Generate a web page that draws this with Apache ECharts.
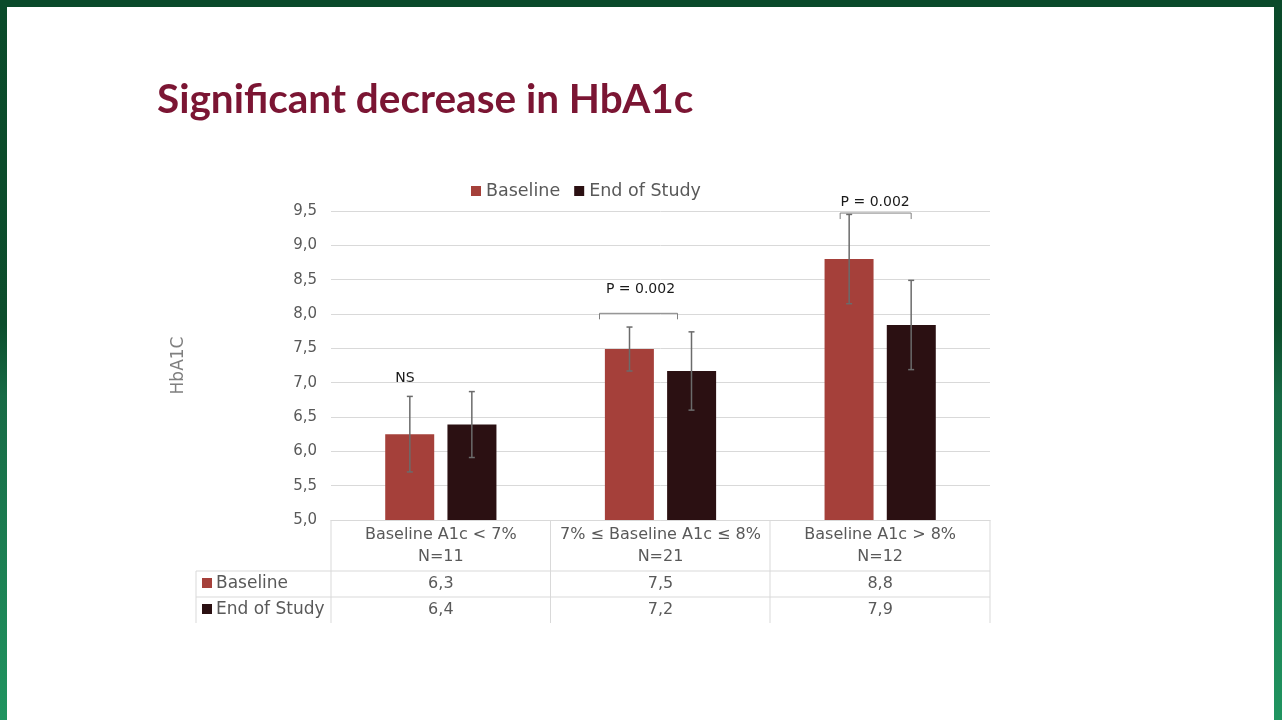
<!DOCTYPE html>
<html>
<head>
<meta charset="utf-8">
<script src="https://cdn.jsdelivr.net/npm/echarts@6/dist/echarts.min.js"></script>
<style>
  html, body { margin: 0; padding: 0; background: #fff; }
  #chart { width: 1282px; height: 720px; }
</style>
</head>
<body>
<div id="chart"></div>
<script>
// data
var categories = ['Baseline A1c < 7%\nN=11', '7% \u2264 Baseline A1c \u2264 8%\nN=21', 'Baseline A1c > 8%\nN=12'];
var baselineValues = [6.25, 7.49, 8.8];
var endValues = [6.39, 7.17, 7.84];
var baselineErr = [0.55, 0.32, 0.65];
var endErr = [0.48, 0.57, 0.65];
var baselineTable = ['6,3', '7,5', '8,8'];
var endTable = ['6,4', '7,2', '7,9'];
var annotText = ['NS', 'P = 0.002', 'P = 0.002'];
var annotValue = [7.07, 8.36, 9.63];
var bracketValue = [null, 8.01, 9.47];

var FONT = 'DejaVu Sans';
var GREY = '#595959';
var RED = '#a5403a';
var DARK = '#2b1012';

// grid in pixels
var GL = 331, GR = 990, GT = 211, GB = 520;

var myChart = echarts.init(document.getElementById('chart'));

function errData(vals, errs){
    var out = [];
    for(var i=0;i<vals.length;i++){
        out.push([i, vals[i]-errs[i], vals[i]+errs[i]]);
    }
    return out;
}

function errSeries(vals, errs, off){
    return {
        type: 'custom',
        data: errData(vals, errs),
        z: 5,
        renderItem: function(params, api){
            var lo = api.coord([api.value(0), api.value(1)]);
            var hi = api.coord([api.value(0), api.value(2)]);
            var x = lo[0] + off;
            var st = {stroke: '#6b6b6b', lineWidth: 1.5};
            return {type: 'group', children: [
                {type: 'line', shape: {x1: x, y1: lo[1], x2: x, y2: hi[1]}, style: st},
                {type: 'line', shape: {x1: x-3, y1: hi[1], x2: x+3, y2: hi[1]}, style: st},
                {type: 'line', shape: {x1: x-3, y1: lo[1], x2: x+3, y2: lo[1]}, style: st}
            ]};
        }
    };
}

// text offsets and bracket extents in px from category centre
var annotDx = [-36, -20, -5];
var bracketX = [null, [-61, 17], [-40, 31]];

var annotData = [];
for(var i=0;i<annotValue.length;i++){
    annotData.push([i, annotValue[i], bracketValue[i] == null ? '-' : bracketValue[i]]);
}

var option = {
    animation: false,
    textStyle: {fontFamily: FONT},
    legend: {
        top: 177, left: 466,
        icon: 'rect', itemWidth: 10, itemHeight: 10, itemGap: 14,
        textStyle: {fontSize: 17.5, color: GREY, fontFamily: FONT},
        data: ['Baseline', 'End of Study']
    },
    grid: {left: GL, right: 1282-GR, top: GT, bottom: 720-GB},
    xAxis: [{
        type: 'category',
        data: categories,
        axisLine: {lineStyle: {color: '#d9d9d9'}},
        axisTick: {show: false},
        axisLabel: {interval: 0, fontSize: 16, color: GREY, lineHeight: 22, margin: 4, fontFamily: FONT}
    }, {
        type: 'category', position: 'bottom', offset: 51,
        data: baselineTable,
        axisLine: {show: false}, axisTick: {show: false},
        axisLabel: {interval: 0, fontSize: 16, color: GREY, margin: 5, fontFamily: FONT}
    }, {
        type: 'category', position: 'bottom', offset: 77,
        data: endTable,
        axisLine: {show: false}, axisTick: {show: false},
        axisLabel: {interval: 0, fontSize: 16, color: GREY, margin: 5, fontFamily: FONT}
    }],
    yAxis: {
        type: 'value', min: 5, max: 9.5, interval: 0.5,
        name: 'HbA1C', nameLocation: 'middle', nameGap: 144,
        nameTextStyle: {fontSize: 17, color: '#7f7f7f', fontFamily: FONT},
        axisLine: {show: false}, axisTick: {show: false},
        axisLabel: {fontSize: 15, color: GREY, margin: 14, fontFamily: FONT,
            formatter: function(v){ return v.toFixed(1).replace('.', ','); }},
        splitLine: {lineStyle: {color: '#d9d9d9', width: 1}}
    },
    series: [{
        name: 'Baseline', type: 'bar', data: baselineValues,
        barWidth: 49, barGap: '27%', itemStyle: {color: RED}
    }, {
        name: 'End of Study', type: 'bar', data: endValues,
        barWidth: 49, itemStyle: {color: DARK}
    },
    errSeries(baselineValues, baselineErr, -31),
    errSeries(endValues, endErr, 31),
    {
        type: 'custom',
        data: annotData,
        clip: false,
        z: 6,
        renderItem: function(params, api){
            var idx = params.dataIndex;
            var p = api.coord([api.value(0), api.value(1)]);
            var kids = [{
                type: 'text',
                style: {x: p[0] + annotDx[idx], y: p[1], text: annotText[idx], fill: '#1a1a1a',
                    font: '14px "' + FONT + '"', align: 'center', verticalAlign: 'middle'}
            }];
            if(bracketX[idx]){
                var b = api.coord([api.value(0), bracketValue[idx]]);
                var x1 = b[0] + bracketX[idx][0], x2 = b[0] + bracketX[idx][1];
                kids.push({type: 'polyline', shape: {points: [[x1, b[1]+6], [x1, b[1]], [x2, b[1]], [x2, b[1]+6]]},
                    style: {stroke: '#808080', lineWidth: 1, fill: null}});
            }
            return {type: 'group', children: kids};
        }
    }],
    graphic: [
        // slide frame
        {type: 'rect', shape: {x: 0, y: 0, width: 1282, height: 7}, style: {fill: '#0a4a2a'}},
        {type: 'rect', shape: {x: 0, y: 0, width: 7, height: 720},
            style: {fill: new echarts.graphic.LinearGradient(0, 0, 0, 1, [
                {offset: 0, color: '#0a4a2a'}, {offset: 0.45, color: '#0c4d2c'},
                {offset: 0.55, color: '#176a45'}, {offset: 1, color: '#209460'}])}},
        {type: 'rect', shape: {x: 1274, y: 0, width: 8, height: 720},
            style: {fill: new echarts.graphic.LinearGradient(0, 0, 0, 1, [
                {offset: 0, color: '#0a4a2a'}, {offset: 0.45, color: '#0c4d2c'},
                {offset: 0.55, color: '#176a45'}, {offset: 1, color: '#209460'}])}},
        // title
        {type: 'text', left: 157, top: 79,
            style: {text: 'Significant decrease in HbA1c', fill: '#7b1533',
                font: 'bold 40.5px Lato'}},
        // data table lines
        {type: 'line', shape: {x1: 196, y1: 571, x2: GR, y2: 571}, style: {stroke: '#d9d9d9', lineWidth: 1}},
        {type: 'line', shape: {x1: 196, y1: 597, x2: GR, y2: 597}, style: {stroke: '#d9d9d9', lineWidth: 1}},
        {type: 'line', shape: {x1: 196, y1: 571, x2: 196, y2: 623}, style: {stroke: '#d9d9d9', lineWidth: 1}},
        {type: 'line', shape: {x1: GL, y1: GB, x2: GL, y2: 623}, style: {stroke: '#d9d9d9', lineWidth: 1}},
        {type: 'line', shape: {x1: 550.5, y1: GB, x2: 550.5, y2: 623}, style: {stroke: '#d9d9d9', lineWidth: 1}},
        {type: 'line', shape: {x1: 770, y1: GB, x2: 770, y2: 623}, style: {stroke: '#d9d9d9', lineWidth: 1}},
        {type: 'line', shape: {x1: GR, y1: GB, x2: GR, y2: 623}, style: {stroke: '#d9d9d9', lineWidth: 1}},
        // table row keys
        {type: 'rect', shape: {x: 202, y: 578, width: 10, height: 10}, style: {fill: RED}},
        {type: 'text', x: 216, y: 584, style: {text: 'Baseline', fill: GREY, font: '17px "' + FONT + '"', verticalAlign: 'middle'}},
        {type: 'rect', shape: {x: 202, y: 604, width: 10, height: 10}, style: {fill: DARK}},
        {type: 'text', x: 216, y: 610, style: {text: 'End of Study', fill: GREY, font: '17px "' + FONT + '"', verticalAlign: 'middle'}}
    ]
};

myChart.setOption(option);
</script>
</body>
</html>
